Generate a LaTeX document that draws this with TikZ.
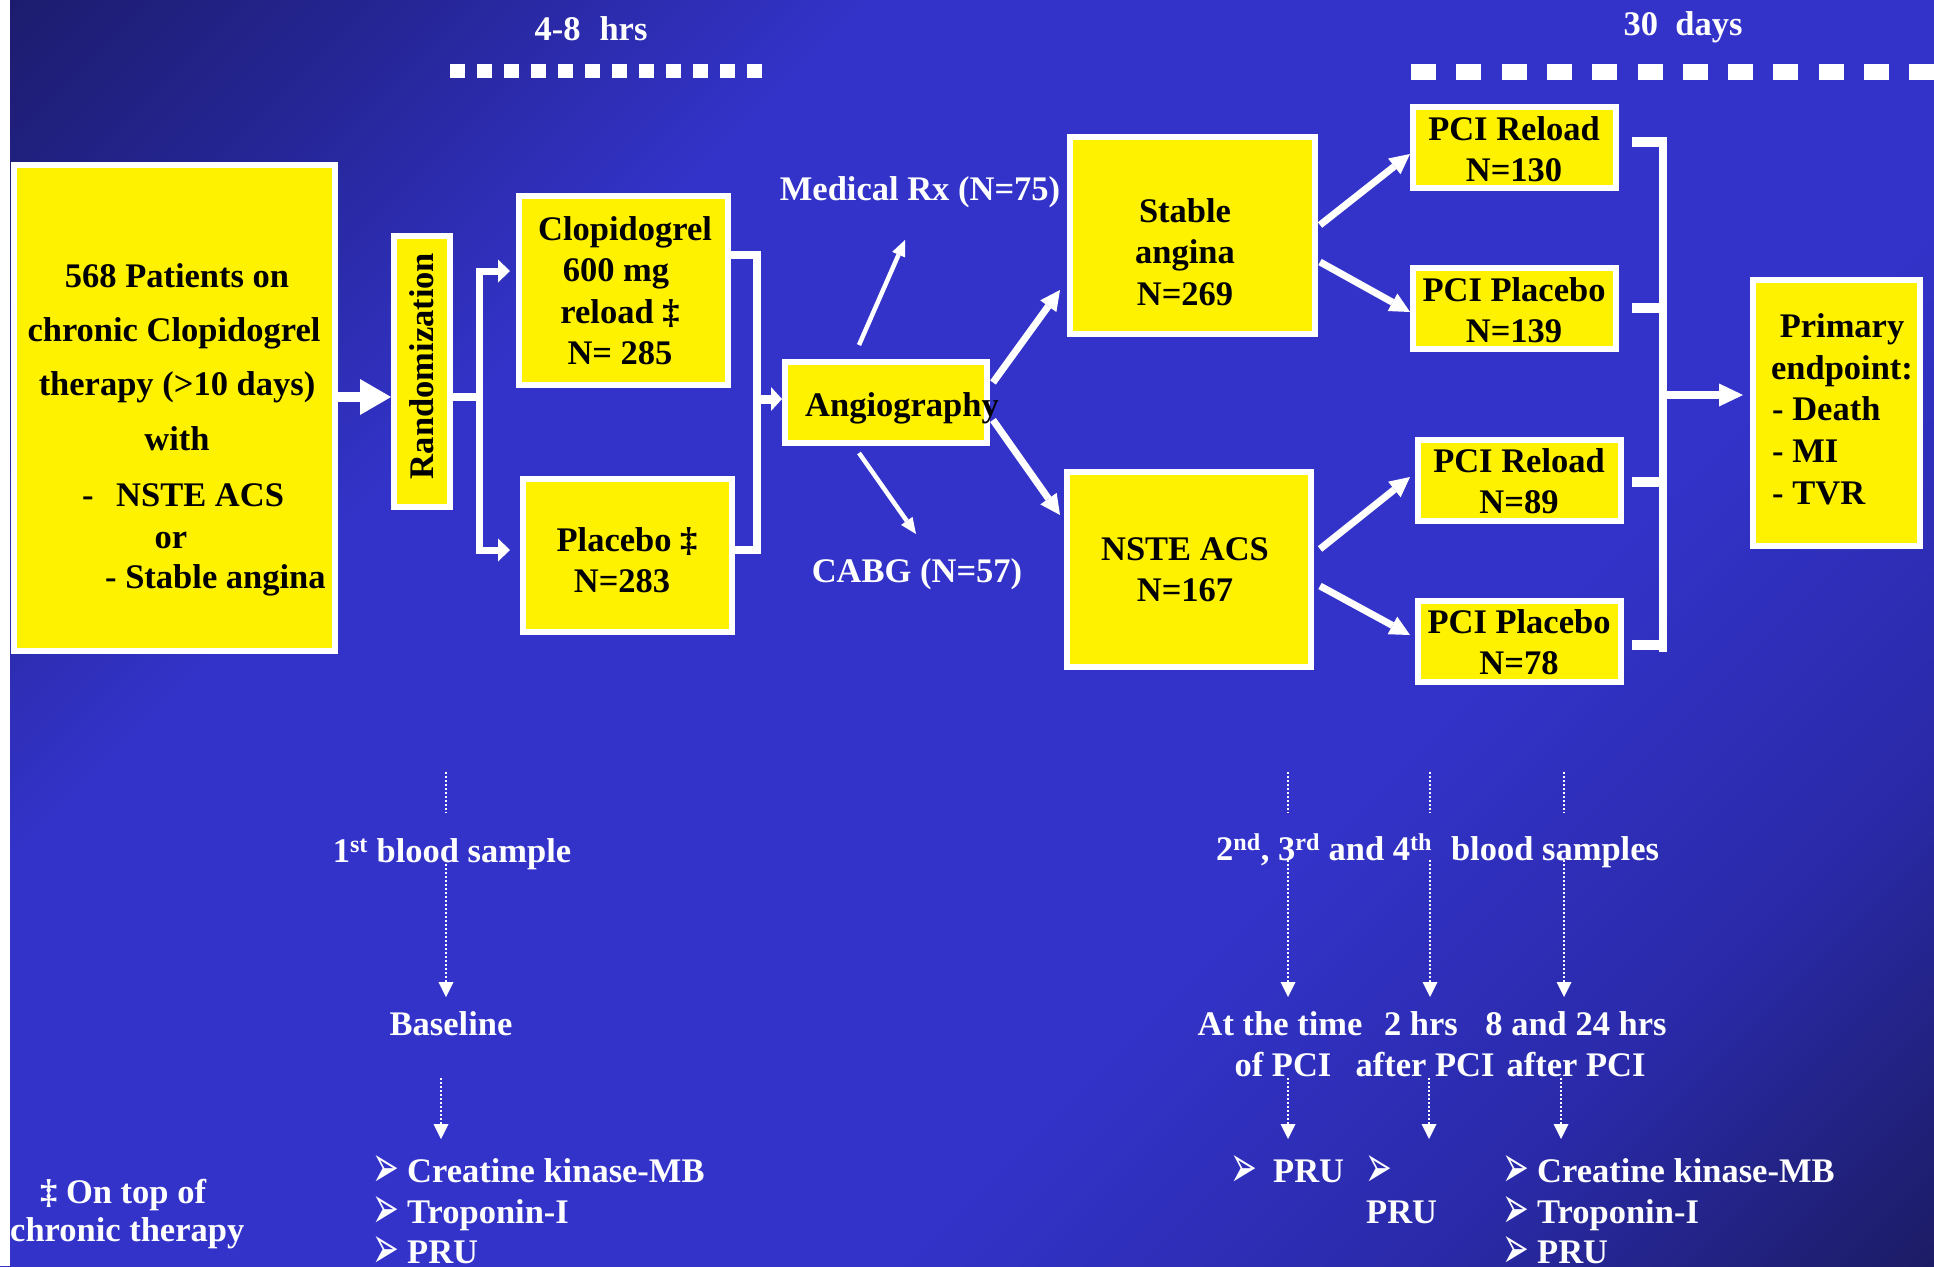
\documentclass[tikz,border=0pt]{standalone}
\usepackage{graphicx}
\usepackage{fontspec}
\setmainfont{Liberation Serif}
\newfontfamily\dejavu{DejaVu Sans}
\usetikzlibrary{arrows.meta,calc}
\definecolor{bgA}{RGB}{28,28,110}
\definecolor{bgB}{RGB}{38,38,152}
\definecolor{bgC}{RGB}{51,51,202}
\definecolor{bgD}{RGB}{42,42,170}
\definecolor{bgE}{RGB}{28,28,102}
\pgfdeclarehorizontalshading{bgsh}{100bp}{color(0bp)=(bgA); color(14.6bp)=(bgA); color(24bp)=(bgB); color(34bp)=(bgC); color(62bp)=(bgC); color(74bp)=(bgD); color(85.4bp)=(bgE); color(100bp)=(bgE)}
\newcommand{\bigfont}{\bfseries\fontsize{34.5}{41}\selectfont}
\newcommand{\arrowglyph}{\raisebox{-5pt}{\scalebox{0.8}[1.5]{\dejavu\fontsize{40}{40}\selectfont ➢}}}
\begin{document}
\begin{tikzpicture}[x=1pt,y=-1pt,
  ybox/.style={draw=white, line width=6pt, fill=yellow, inner sep=0pt, outer sep=0pt},
  btxt/.style={font=\bigfont, text=black, inner sep=0pt, anchor=base},
  wtxt/.style={font=\bigfont, text=white, inner sep=0pt, anchor=base},
  bul/.style={text=white, inner sep=0pt, anchor=base west},
  wline/.style={draw=white, line width=#1},
  arrBig/.style={draw=white, line width=10pt, -{Triangle[length=31pt,width=36pt,line width=0pt]}},
  arrSmall/.style={draw=white, line width=7pt, -{Triangle[length=12pt,width=23pt,line width=0pt]}},
  arrMid/.style={draw=white, line width=9pt, -{Triangle[length=11pt,width=24pt,line width=0pt]}},
  arrDiag/.style={draw=white, line width=7pt, -{Triangle[length=20pt,width=20pt,line width=0pt]}},
  arrThin/.style={draw=white, line width=4.5pt, -{Triangle[length=16pt,width=14pt,line width=0pt]}},
  arrEnd/.style={draw=white, line width=8pt, -{Triangle[length=24pt,width=23pt,line width=0pt]}},
  dotline/.style={draw=white, line width=1.8pt, dash pattern=on 1.8pt off 2.2pt},
  dotarr/.style={dotline, -{Triangle[length=15pt,width=15pt,line width=0pt]}}
]
\useasboundingbox (0,0) rectangle (1934,1266);
\shade[shading=bgsh, shading angle=-45] (0,0) rectangle (1934,1266);
\fill[white] (0,0) rectangle (10,1266);

% timeline bars
\node[wtxt] (t48) at (591,40) {4-8\hspace{0.55em}hrs};
\node[wtxt] (t30) at (1683,35) {30\hspace{0.5em}days};
\coordinate (ba1) at (450,71);
\coordinate (ba2) at (768,71);
\draw[white, line width=14pt, dash pattern=on 15pt off 12pt] (ba1) -- (ba2);
\coordinate (bb1) at (1411,72);
\coordinate (bb2) at (1934,72);
\draw[white, line width=16pt, dash pattern=on 25pt off 20.3pt] (bb1) -- (bb2);

% boxes
\node[ybox, minimum width=321pt, minimum height=486pt] (box1) at (174.5,408) {};
\node[ybox, minimum width=56pt, minimum height=271pt] (rand) at (422,371.5) {};
\node[ybox, minimum width=209pt, minimum height=189pt] (clop) at (623.5,290.5) {};
\node[ybox, minimum width=209pt, minimum height=153pt] (plac) at (627.5,555.5) {};
\node[ybox, minimum width=202pt, minimum height=81pt] (angio) at (886,402.5) {};
\node[ybox, minimum width=245pt, minimum height=197pt] (stable) at (1192.5,235.5) {};
\node[ybox, minimum width=244pt, minimum height=195pt] (nste) at (1189,569.5) {};
\node[ybox, minimum width=203pt, minimum height=81pt] (r1) at (1514.5,147.5) {};
\node[ybox, minimum width=203pt, minimum height=81pt] (p1) at (1514.5,308.5) {};
\node[ybox, minimum width=203pt, minimum height=81pt] (r2) at (1519.5,480.5) {};
\node[ybox, minimum width=203pt, minimum height=81pt] (p2) at (1519.5,641.5) {};
\node[ybox, minimum width=167pt, minimum height=266pt] (prim) at (1836.5,413) {};

% box texts
\node[btxt] (b1a) at (177,287) {568 Patients on};
\node[btxt] (b1b) at (174,341) {chronic Clopidogrel};
\node[btxt] (b1c) at (177,395) {therapy (>10 days)};
\node[btxt] (b1d) at (177,450) {with};
\node[btxt, anchor=base west] (b1e) at (82,506) {-};
\node[btxt, anchor=base west] (b1f) at (116,506) {NSTE ACS};
\node[btxt] (b1g) at (171,548) {or};
\node[btxt, anchor=base west] (b1h) at (105,588) {- Stable angina};

\node[btxt, rotate=90, anchor=center] (randt) at (422,366) {Randomization};

\node[btxt] (c1) at (625,240) {Clopidogrel};
\node[btxt] (c2) at (616,281) {600 mg};
\node[btxt] (c3) at (620,323) {reload ‡};
\node[btxt] (c4) at (620,364) {N= 285};

\node[btxt] (pl1) at (627,551) {Placebo ‡};
\node[btxt] (pl2) at (622,592) {N=283};

\node[btxt] (an) at (902,416) {Angiography};

\node[btxt] (s1) at (1185,222) {Stable};
\node[btxt] (s2) at (1185,263) {angina};
\node[btxt] (s3) at (1185,305) {N=269};

\node[btxt] (n1) at (1185,560) {NSTE ACS};
\node[btxt] (n2) at (1185,601) {N=167};

\node[btxt] (r1a) at (1514,140) {PCI Reload};
\node[btxt] (r1b) at (1514,181) {N=130};
\node[btxt] (p1a) at (1514,301) {PCI Placebo};
\node[btxt] (p1b) at (1514,342) {N=139};
\node[btxt] (r2a) at (1519,472) {PCI Reload};
\node[btxt] (r2b) at (1519,513) {N=89};
\node[btxt] (p2a) at (1519,633) {PCI Placebo};
\node[btxt] (p2b) at (1519,674) {N=78};

\node[btxt] (pr1) at (1842,337) {Primary};
\node[btxt] (pr2) at (1842,379) {endpoint:};
\node[btxt, anchor=base west] (pr3) at (1772,420) {- Death};
\node[btxt, anchor=base west] (pr4) at (1772,462) {- MI};
\node[btxt, anchor=base west] (pr5) at (1772,504) {- TVR};

% white labels
\node[wtxt] (medrx) at (920,200) {Medical Rx (N=75)};
\node[wtxt] (cabg) at (917,582) {CABG (N=57)};

% connectors
\draw[arrBig] ($(box1.east)+(3,-11)$) -- ($(rand.west)+(-3,25.5)$);
\coordinate (rj) at ($(rand.east)+(29,25.5)$);
\draw[wline=8pt] ($(rand.east)+(3,25.5)$) -- (rj);
\draw[arrSmall] (rj) |- ($(clop.west)+(-9,-19.5)$);
\draw[arrSmall] (rj) |- ($(plac.west)+(-13,-5.5)$);

\coordinate (cj) at ($(plac.east)+(24.5,-5.5)$);
\draw[wline=8pt, line join=miter] ($(clop.east)+(0,-35.5)$) -| (cj) -- ($(plac.east)+(0,-5.5)$);
\coordinate (ain) at ($(angio.west)+(-3,-3.5)$);
\draw[arrMid] (cj |- ain) -- (ain);

\coordinate (medtip) at (905,240);
\coordinate (cabgtip) at (916,534);
\draw[arrThin] ($(angio.north)+(-27,-17)$) -- (medtip);
\draw[arrThin] ($(angio.south)+(-27,10)$) -- (cabgtip);
\draw[arrDiag] ($(angio.east)+(6,-20)$) -- ($(stable.west)+(-10,54.5)$);
\draw[arrDiag] ($(angio.east)+(6,17.5)$) -- ($(nste.west)+(-7,-54.5)$);

\draw[arrDiag] ($(stable.east)+(5,-10.5)$) -- ($(r1.west)+(-3,6.5)$);
\draw[arrDiag] ($(stable.east)+(5,26.5)$) -- ($(p1.west)+(-3,3.5)$);
\draw[arrDiag] ($(nste.east)+(9,-20.5)$) -- ($(r2.west)+(-8,-3.5)$);
\draw[arrDiag] ($(nste.east)+(9,16.5)$) -- ($(p2.west)+(-8,-6.5)$);

% bracket
\coordinate (vx1) at ($(r1.east)+(47,-10.5)$);
\coordinate (vx2) at ($(p2.east)+(42,10.5)$);
\draw[wline=8pt] (vx1) -- (vx2);
\draw[wline=10pt] ($(r1.east)+(16,-5.5)$) -- ($(r1.east)+(43,-5.5)$);
\draw[wline=10pt] ($(p1.east)+(16,-0.5)$) -- ($(p1.east)+(43,-0.5)$);
\draw[wline=10pt] ($(r2.east)+(11,1.5)$) -- ($(r2.east)+(38,1.5)$);
\draw[wline=10pt] ($(p2.east)+(11,3.5)$) -- ($(p2.east)+(38,3.5)$);
\coordinate (pin) at ($(prim.west)+(-10,-18)$);
\draw[arrEnd] (vx1 |- pin) -- (pin);

% bottom: left column
\node[wtxt] (bs1) at (452,862) {1\textsuperscript{st} blood sample};
\node[wtxt] (base) at (451,1035) {Baseline};
\node[bul] (lb1) at (372,1182) {\arrowglyph};
\node[bul] (lb2) at (372,1223) {\arrowglyph};
\node[bul] (lb3) at (372,1263) {\arrowglyph};
\node[wtxt, anchor=base west] (lc1) at (407,1182) {Creatine kinase-MB};
\node[wtxt, anchor=base west] (lc2) at (407,1223) {Troponin-I};
\node[wtxt, anchor=base west] (lc3) at (407,1263) {PRU};

\coordinate (tl) at (446,772);
\draw[dotline] (tl) -- ($(bs1.base)+(-6,-49)$);
\draw[dotarr] ($(bs1.base)+(-6,-2)$) -- ($(base.base)+(-5,-38)$);
\draw[dotarr] ($(base.base)+(-10,43)$) -- ($(lb1.base west)+(69,-43)$);

% bottom: right column
\node[wtxt, anchor=base west] (bs2) at (1216,860) {2\textsuperscript{nd}, 3\textsuperscript{rd} and 4\textsuperscript{th}\hspace{0.3em} blood samples};
\node[wtxt] (a1) at (1280,1035) {At the time};
\node[wtxt] (a1b) at (1283,1076) {of PCI};
\node[wtxt] (a2) at (1421,1035) {2 hrs};
\node[wtxt] (a2b) at (1425,1076) {after PCI};
\node[wtxt] (a3) at (1576,1035) {8 and 24 hrs};
\node[wtxt] (a3b) at (1576,1076) {after PCI};

\node[bul] (rb1) at (1230,1182) {\arrowglyph};
\node[wtxt, anchor=base west] (rt1) at (1273,1182) {PRU};
\node[bul] (rb2) at (1365,1182) {\arrowglyph};
\node[wtxt, anchor=base west] (rt2) at (1366,1223) {PRU};
\node[bul] (rb3) at (1502,1182) {\arrowglyph};
\node[bul] (rb4) at (1502,1223) {\arrowglyph};
\node[bul] (rb5) at (1502,1263) {\arrowglyph};
\node[wtxt, anchor=base west] (rc1) at (1537,1182) {Creatine kinase-MB};
\node[wtxt, anchor=base west] (rc2) at (1537,1223) {Troponin-I};
\node[wtxt, anchor=base west] (rc3) at (1537,1263) {PRU};

\coordinate (tr1) at (1288,772);
\coordinate (tr2) at (1430,772);
\coordinate (tr3) at (1564,772);
\draw[dotline] (tr1) -- (1288,813);
\draw[dotline] (tr2) -- (1430,813);
\draw[dotline] (tr3) -- (1564,813);
\draw[dotarr] ($(bs2.base west)+(72,0)$) -- ($(a1.base)+(8,-38)$);
\draw[dotarr] ($(bs2.base west)+(214,0)$) -- ($(a2.base)+(9,-38)$);
\draw[dotarr] ($(bs2.base west)+(348,0)$) -- ($(a3.base)+(-12,-38)$);
\draw[dotarr] ($(a1b.base)+(5,2)$) -- ($(rb1.base west)+(58,-43)$);
\draw[dotarr] ($(a2b.base)+(4,2)$) -- ($(rb2.base west)+(64,-43)$);
\draw[dotarr] ($(a3b.base)+(-15,2)$) -- ($(rb3.base west)+(59,-43)$);

% footnote
\node[wtxt, anchor=base west] (fn1) at (40,1203) {‡ On top of};
\node[wtxt, anchor=base west] (fn2) at (10,1241) {chronic therapy};
\end{tikzpicture}
\end{document}
